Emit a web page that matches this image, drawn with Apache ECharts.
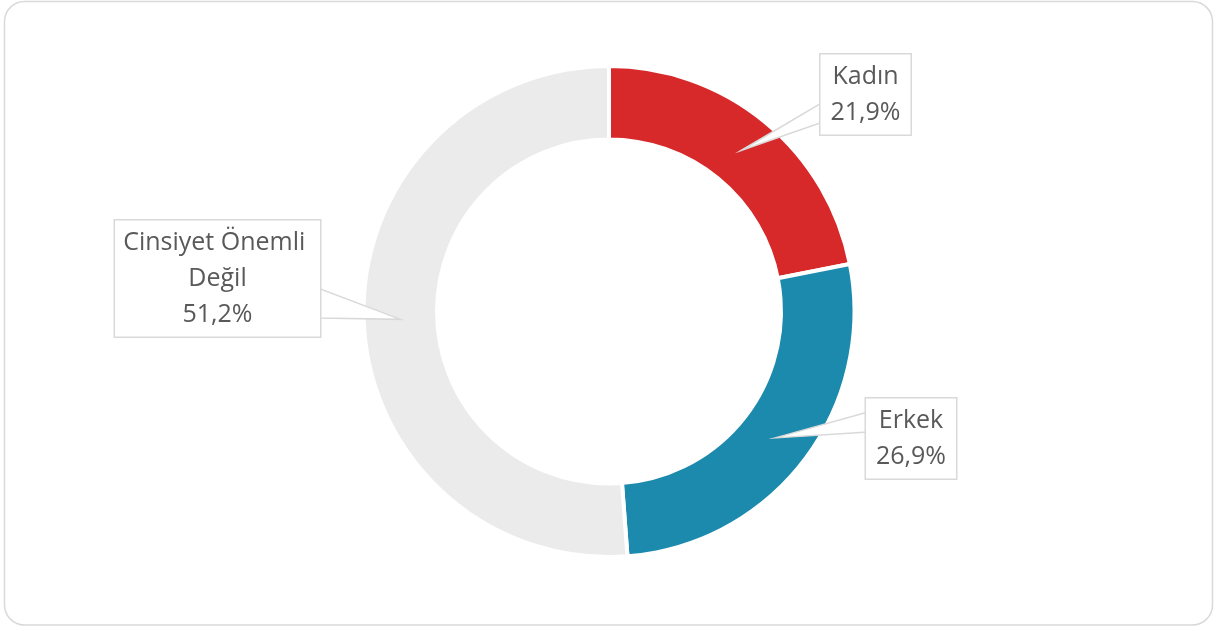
<!DOCTYPE html>
<html>
<head>
<meta charset="utf-8">
<script src="https://cdn.jsdelivr.net/npm/echarts@6/dist/echarts.min.js"></script>
<style>
    html, body { margin: 0; background: #fff; }
    #chart { width: 1218px; height: 631px; }
</style>
</head>
<body>
<div id="chart"></div>
<script>
    const categories = ['Kadın', 'Erkek', 'Cinsiyet Önemli Değil'];
    const shares = [21.9, 26.9, 51.2];
    const colors = ['#d7282a', '#1b8aad', '#ebebeb'];

    // callout boxes: centre, text width, wedge base on the box edge
    const callouts = [
        { x: 865.5, y: 94.5, w: 90, base: [[823, 102], [823, 122]] },
        { x: 911, y: 438.5, w: 90, base: [[868, 412], [868, 432]] },
        { x: 217.5, y: 278.5, w: 205, base: [[318, 288], [318, 318]] }
    ];
    const pct = v => v.toFixed(1).replace('.', ',') + '%';

    const chart = echarts.init(document.getElementById('chart'));

    const pieBase = {
        type: 'pie',
        center: [609, 311.5],
        radius: [172, 245.5],
        startAngle: 90,
        clockwise: true,
        animation: false,
        silent: true,
        emphasis: { disabled: true }
    };

    chart.setOption({
        animation: false,
        series: [
            Object.assign({}, pieBase, {
                z: 2,
                label: { show: false },
                labelLine: { show: false },
                itemStyle: { borderColor: '#fff', borderWidth: 4 },
                data: categories.map((name, i) => ({
                    name: name,
                    value: shares[i],
                    itemStyle: { color: colors[i] }
                }))
            }),
            Object.assign({}, pieBase, {
                z: 4,
                itemStyle: { color: 'rgba(0,0,0,0)', borderWidth: 0 },
                labelLine: { show: false },
                label: {
                    show: true,
                    position: 'inside',
                    color: '#595959',
                    fontFamily: 'Open Sans',
                    fontSize: 25,
                    lineHeight: 36,
                    align: 'center',
                    verticalAlign: 'middle',
                    overflow: 'break',
                    backgroundColor: '#fff',
                    borderColor: '#d9d9d9',
                    borderWidth: 1.5,
                    padding: [7, 0, 1, 0],
                    formatter: p => p.name + '\n' + pct(shares[p.dataIndex])
                },
                labelLayout: p => ({
                    x: callouts[p.dataIndex].x,
                    y: callouts[p.dataIndex].y,
                    align: 'center',
                    verticalAlign: 'middle'
                }),
                data: categories.map((name, i) => ({
                    name: name,
                    value: shares[i],
                    label: { width: callouts[i].w }
                }))
            })
        ]
    });

    // wedges of the callouts point to the middle of each ring segment
    const data = chart.getModel().getSeriesByIndex(0).getData();
    const wedges = categories.map((name, i) => {
        const l = data.getItemLayout(i);
        const mid = (l.startAngle + l.endAngle) / 2;
        const rm = (l.r + l.r0) / 2;
        const tip = [l.cx + rm * Math.cos(mid), l.cy + rm * Math.sin(mid)];
        return {
            type: 'polygon',
            z: 3,
            silent: true,
            shape: { points: [tip, callouts[i].base[0], callouts[i].base[1]] },
            style: { fill: '#fff', stroke: '#d9d9d9', lineWidth: 1.5 }
        };
    });

    chart.setOption({
        graphic: [
            {
                type: 'rect',
                z: 0,
                silent: true,
                shape: { x: 4.5, y: 1.5, width: 1208, height: 623.5, r: 20 },
                style: { fill: 'none', stroke: '#d9d9d9', lineWidth: 1.5 }
            }
        ].concat(wedges)
    });
</script>
</body>
</html>
